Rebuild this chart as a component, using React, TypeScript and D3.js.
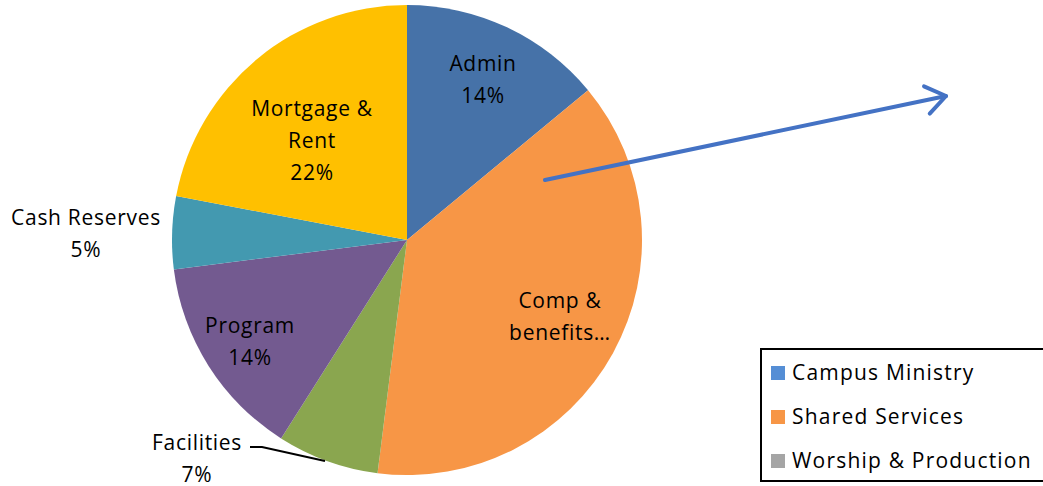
import React from "react";
import * as d3 from "d3";

const categories = ["Admin", "Comp & benefits…", "Facilities", "Program", "Cash Reserves", "Mortgage & Rent"];
const values = [14, 38, 7, 14, 5, 22];
const labelLines = [["Admin", "14%"], ["Comp &", "benefits…"], ["Facilities", "7%"], ["Program", "14%"], ["Cash Reserves", "5%"], ["Mortgage &", "Rent", "22%"]];
const sliceColors = ["#4672A8", "#F79646", "#8AA64F", "#735A90", "#4399B0", "#FFC000"];
const legendItems = ["Campus Ministry", "Shared Services", "Worship & Production"];
const legendColors = ["#558ED5", "#F79646", "#A5A5A5"];

// layout (not data)
const labelAnchors: [number, number][] = [[483, 64], [560, 301], [197, 443], [250, 326], [86, 218], [312, 109]];
const W = 1043, H = 486;
const cx = 407, cy = 240, R = 235;
const FONT = "'Open Sans', sans-serif";

export default function App() {
  const pie = d3.pie<number>().sort(null).value((d) => d);
  const arcs = pie(values);
  const arcGen = d3.arc<d3.PieArcDatum<number>>().innerRadius(0).outerRadius(R);
  const lineH = 32;
  return (
    <svg width={W} height={H} style={{ position: "absolute", left: 0, top: 0 }} fontFamily={FONT}>
      <rect width={W} height={H} fill="#fff" />
      <g transform={`translate(${cx},${cy})`}>
        {arcs.map((a, i) => (
          <path key={i} d={arcGen(a) || ""} fill={sliceColors[i]} />
        ))}
      </g>
      <polyline points="250,447 262,447 325,461" fill="none" stroke="#000" strokeWidth={2} />
      {labelLines.map((lines, i) => (
        <text key={i} textAnchor="middle" fontSize={21} letterSpacing={0.7} fill="#000">
          {lines.map((l, j) => (
            <tspan key={j} x={labelAnchors[i][0]} y={labelAnchors[i][1] + j * lineH} dy="0.35em">{l}</tspan>
          ))}
        </text>
      ))}
      {(() => {
        const x1 = 545, y1 = 180, x2 = 946, y2 = 96;
        const ang = Math.atan2(y2 - y1, x2 - x1);
        const L = 24, spread = 0.62;
        const p1 = [x2 - L * Math.cos(ang - spread), y2 - L * Math.sin(ang - spread)];
        const p2 = [x2 - L * Math.cos(ang + spread), y2 - L * Math.sin(ang + spread)];
        return (
          <g stroke="#4472C4" strokeWidth={4} fill="none" strokeLinecap="round" strokeLinejoin="round">
            <line x1={x1} y1={y1} x2={x2} y2={y2} />
            <polyline points={`${p1[0]},${p1[1]} ${x2},${y2} ${p2[0]},${p2[1]}`} />
          </g>
        );
      })()}
      <rect x={761} y={349} width={290} height={132} fill="#fff" stroke="#000" strokeWidth={2} />
      {legendItems.map((t, i) => (
        <g key={i}>
          <rect x={771} y={366 + i * 44} width={14} height={14} fill={legendColors[i]} />
          <text x={792} y={373 + i * 44} dy="0.35em" fontSize={21} letterSpacing={1.2} fill="#000">{t}</text>
        </g>
      ))}
    </svg>
  );
}
